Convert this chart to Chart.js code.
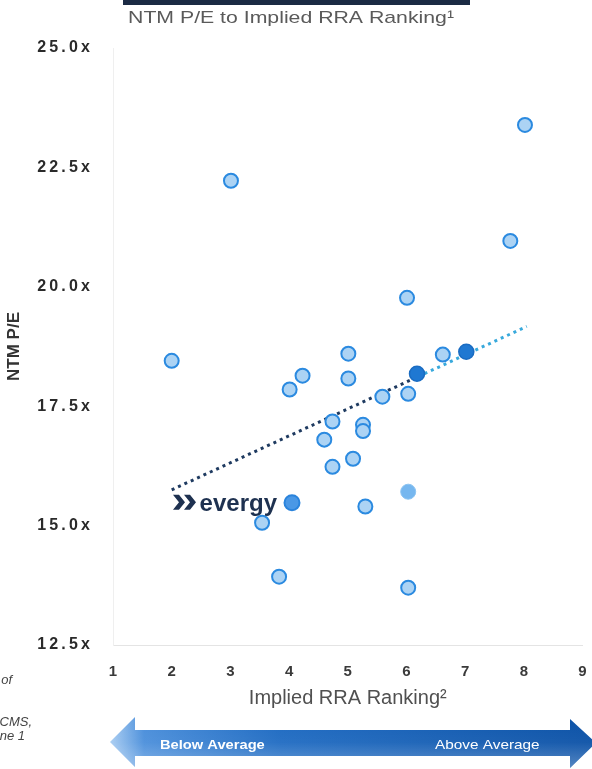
<!DOCTYPE html>
<html>
<head>
<meta charset="utf-8">
<title>NTM P/E to Implied RRA Ranking</title>
<style>
  html, body { margin: 0; padding: 0; background: #ffffff; }
  #wrap { position: relative; width: 592px; height: 769px; }
  canvas { display: block; }
</style>
<script src="https://cdn.jsdelivr.net/npm/chart.js@4/dist/chart.umd.min.js"></script>
</head>
<body>
<div id="wrap"><canvas id="chart" width="592" height="769"></canvas></div>
<script>
// Peer utilities: implied RRA ranking vs. NTM P/E
const peerRank = [2.00, 3.01, 8.02, 7.77, 6.01, 5.01, 5.01, 4.23, 4.01, 6.62, 5.59, 6.03,
                  4.74, 5.26, 5.26, 4.60, 4.74, 5.09, 3.54, 5.30, 3.83, 6.03];
const peerPE   = [18.45, 22.22, 23.39, 20.96, 19.77, 18.60, 18.08, 18.14, 17.85, 18.58, 17.70, 17.76,
                  17.18, 17.11, 16.98, 16.80, 16.23, 16.40, 15.06, 15.40, 13.93, 13.70];

// Solid-filled peers
const solidRank = [7.02, 6.18];
const solidPE   = [18.64, 18.18];

// Evergy
const evergyRank = [4.05];
const evergyPE   = [15.48];

// Pale peer
const paleRank = [6.03];
const palePE   = [15.71];

// Trend line (dark section, then light section)
const trendRank = [2.00, 6.20, 8.05];
const trendPE   = [15.75, 18.12, 19.17];

// Axis ticks
const xTicks = [1, 2, 3, 4, 5, 6, 7, 8, 9];
const xTickLabels = ['1', '2', '3', '4', '5', '6', '7', '8', '9'];
const yTicks = [12.5, 15.0, 17.5, 20.0, 22.5, 25.0];
const yTickLabels = ['12.5x', '15.0x', '17.5x', '20.0x', '22.5x', '25.0x'];

const toPoints = (xs, ys) => xs.map((x, i) => ({ x: x, y: ys[i] }));
const spaced = s => s.split('').join('\u2009');

function fillStretched(ctx, text, x, y, sx, align) {
  ctx.save();
  ctx.translate(x, y);
  ctx.scale(sx, 1);
  ctx.textAlign = align;
  ctx.fillText(text, 0, 0);
  ctx.restore();
}

const decorations = {
  id: 'decorations',
  beforeDraw(chart) {
    const ctx = chart.ctx;
    ctx.save();
    ctx.fillStyle = '#ffffff';
    ctx.fillRect(0, 0, chart.width, chart.height);
    ctx.restore();
  },
  afterDraw(chart) {
    const ctx = chart.ctx;
    const xs = chart.scales.x, ys = chart.scales.y;
    ctx.save();

    // Header rule and title
    ctx.fillStyle = '#1b2b44';
    ctx.fillRect(123, 0, 347, 5);
    ctx.fillStyle = '#5a5a5a';
    ctx.font = '17px "Liberation Sans", Arial, sans-serif';
    ctx.textBaseline = 'alphabetic';
    fillStretched(ctx, 'NTM P/E to Implied RRA Ranking\u00B9', 291, 23, 1.25, 'center');

    // Evergy logo next to its point
    const px = xs.getPixelForValue(evergyRank[0]);
    const py = ys.getPixelForValue(evergyPE[0]);
    ctx.fillStyle = '#1e3150';
    ctx.font = 'bold 24px "Liberation Sans", Arial, sans-serif';
    ctx.textAlign = 'right';
    ctx.fillText('evergy', px - 15, py + 8);
    const chev = (x0, w, t, top, h) => {
      ctx.beginPath();
      ctx.moveTo(x0, top);
      ctx.lineTo(x0 + t, top);
      ctx.lineTo(x0 + w, top + h / 2);
      ctx.lineTo(x0 + t, top + h);
      ctx.lineTo(x0, top + h);
      ctx.lineTo(x0 + w - t, top + h / 2);
      ctx.closePath();
      ctx.fill();
    };
    chev(px - 119, 12, 6, py - 8, 15);
    chev(px - 108, 12, 6, py - 8, 15);

    // Cut-off footnote text at the left edge
    ctx.fillStyle = '#444444';
    ctx.font = 'italic 13px "Liberation Sans", Arial, sans-serif';
    ctx.textAlign = 'right';
    ctx.fillText('of', 12, 684);
    ctx.fillText('CMS,', 32, 726);
    ctx.fillText('ne 1', 25, 740);

    // Below / Above average arrow
    ctx.beginPath();
    ctx.moveTo(110, 742);
    ctx.lineTo(135, 717);
    ctx.lineTo(135, 730);
    ctx.lineTo(570, 730);
    ctx.lineTo(570, 719);
    ctx.lineTo(596, 743);
    ctx.lineTo(570, 768);
    ctx.lineTo(570, 756);
    ctx.lineTo(135, 756);
    ctx.lineTo(135, 767);
    ctx.closePath();
    const g = ctx.createLinearGradient(110, 0, 596, 0);
    g.addColorStop(0, '#a9cdf2');
    g.addColorStop(0.07, '#4b8fdb');
    g.addColorStop(0.35, '#1f6bc2');
    g.addColorStop(1, '#0b51a6');
    ctx.fillStyle = g;
    ctx.fill();
    const v = ctx.createLinearGradient(0, 717, 0, 768);
    v.addColorStop(0, 'rgba(255,255,255,0)');
    v.addColorStop(0.5, 'rgba(255,255,255,0.05)');
    v.addColorStop(1, 'rgba(255,255,255,0.3)');
    ctx.fillStyle = v;
    ctx.fill();

    ctx.fillStyle = '#ffffff';
    ctx.textAlign = 'left';
    ctx.font = 'bold 13px "Liberation Sans", Arial, sans-serif';
    fillStretched(ctx, 'Below Average', 160, 749, 1.13, 'left');
    ctx.font = '13px "Liberation Sans", Arial, sans-serif';
    fillStretched(ctx, 'Above Average', 435, 749, 1.18, 'left');

    ctx.restore();
  }
};

new Chart(document.getElementById('chart'), {
  type: 'scatter',
  data: {
    datasets: [
      {
        label: 'Peers',
        data: toPoints(peerRank, peerPE),
        pointRadius: 7,
        pointBorderWidth: 2,
        backgroundColor: '#acd3f4',
        borderColor: '#2b8ae0',
        order: 1
      },
      {
        label: 'Highlighted peers',
        data: toPoints(solidRank, solidPE),
        pointRadius: 7.5,
        pointBorderWidth: 1.5,
        backgroundColor: '#1f78d2',
        borderColor: '#1a6cc2',
        order: 1
      },
      {
        label: 'Evergy',
        data: toPoints(evergyRank, evergyPE),
        pointRadius: 7.5,
        pointBorderWidth: 2,
        backgroundColor: '#4a98e6',
        borderColor: '#2b84dc',
        order: 1
      },
      {
        label: 'Pale peer',
        data: toPoints(paleRank, palePE),
        pointRadius: 7.5,
        pointBorderWidth: 1,
        backgroundColor: '#76b7ef',
        borderColor: '#8cc4f2',
        order: 1
      },
      {
        type: 'line',
        label: 'Trend',
        data: toPoints(trendRank.slice(0, 2), trendPE.slice(0, 2)),
        borderColor: '#1e3a60',
        borderWidth: 3,
        borderDash: [3, 4],
        pointRadius: 0,
        fill: false,
        order: 2
      },
      {
        type: 'line',
        label: 'Trend (upper)',
        data: toPoints(trendRank.slice(1), trendPE.slice(1)),
        borderColor: '#38a9dc',
        borderWidth: 3,
        borderDash: [3, 4],
        pointRadius: 0,
        fill: false,
        order: 2
      }
    ]
  },
  options: {
    responsive: false,
    animation: false,
    events: [],
    layout: { padding: { top: 48, right: 7, left: 0, bottom: 0 } },
    plugins: {
      legend: { display: false },
      tooltip: { enabled: false },
      title: { display: false }
    },
    scales: {
      x: {
        type: 'linear',
        position: 'bottom',
        min: xTicks[0],
        max: xTicks[xTicks.length - 1],
        afterBuildTicks: axis => { axis.ticks = xTicks.map(v => ({ value: v })); },
        afterFit: axis => {
          axis.height = 124;
          axis.paddingLeft = 0;
          axis.paddingRight = 0;
        },
        grid: { display: false, drawTicks: false },
        border: { display: true, color: '#e4e4e4', width: 1 },
        ticks: {
          autoSkip: false,
          maxRotation: 0,
          padding: 18,
          color: '#3a3a3a',
          font: { family: '"Liberation Sans", Arial, sans-serif', size: 15, weight: 'bold' },
          callback: (value, i) => xTickLabels[i]
        },
        title: {
          display: true,
          text: 'Implied RRA Ranking\u00B2',
          color: '#505050',
          font: { family: '"Liberation Sans", Arial, sans-serif', size: 20 },
          padding: { top: 0, bottom: 59 }
        }
      },
      y: {
        type: 'linear',
        position: 'left',
        min: yTicks[0],
        max: yTicks[yTicks.length - 1],
        afterBuildTicks: axis => { axis.ticks = yTicks.map(v => ({ value: v })); },
        afterFit: axis => {
          axis.width = 113;
          axis.paddingTop = 0;
          axis.paddingBottom = 0;
        },
        grid: { display: false, drawTicks: false },
        border: { display: true, color: '#efefef', width: 1 },
        ticks: {
          padding: 23,
          color: '#2a2a2a',
          font: { family: '"Liberation Sans", Arial, sans-serif', size: 16, weight: 'bold' },
          callback: (value, i) => spaced(yTickLabels[i])
        },
        title: {
          display: true,
          text: 'NTM P/E',
          color: '#333333',
          font: { family: '"Liberation Sans", Arial, sans-serif', size: 17, weight: 'bold' },
          padding: { top: 4, bottom: 0 }
        }
      }
    }
  },
  plugins: [decorations]
});
</script>
</body>
</html>
